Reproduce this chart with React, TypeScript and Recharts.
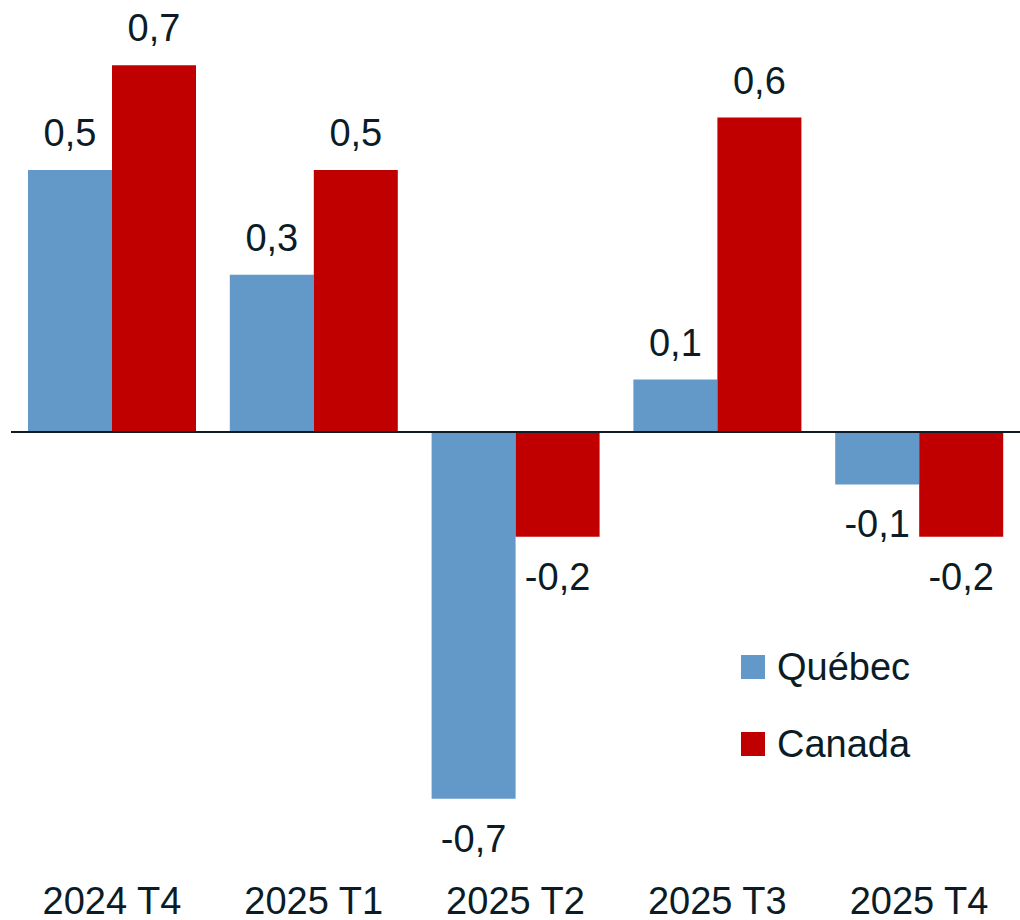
import React from "react";
import { BarChart, Bar, XAxis, YAxis, ReferenceLine, Legend, LabelList } from "recharts";

const categories = ["2024 T4", "2025 T1", "2025 T2", "2025 T3", "2025 T4"];
const quebec = [0.5, 0.3, -0.7, 0.1, -0.1];
const canada = [0.7, 0.5, -0.2, 0.6, -0.2];
const seriesOrder = ["quebec", "canada"];

const data = categories.map((c, i) => ({ cat: c, quebec: quebec[i], canada: canada[i] }));

const TEXT = "#0b1c26";
const FONT = "'Liberation Sans', Arial, sans-serif";
const FS = 38;

const fmt = (v: number) => String(v).replace(".", ",");

const ValueLabel = (props: any) => {
  const { x, y, width, height, value } = props;
  const top = Math.min(y, y + height);
  const bottom = Math.max(y, y + height);
  const cx = x + width / 2;
  if (value >= 0) {
    return (
      <text x={cx} y={top - 24} textAnchor="middle" fill={TEXT} fontSize={FS} fontFamily={FONT}>
        {fmt(value)}
      </text>
    );
  }
  return (
    <text x={cx} y={bottom + 26 + 27} textAnchor="middle" fill={TEXT} fontSize={FS} fontFamily={FONT}>
      {fmt(value)}
    </text>
  );
};

const Tick = (props: any) => {
  const { x, y, payload } = props;
  return (
    <text x={x} y={y + 55} textAnchor="middle" fill={TEXT} fontSize={FS} fontFamily={FONT}>
      {payload.value}
    </text>
  );
};

const LegendContent = (props: any) => {
  const payload = [...(props.payload || [])].sort(
    (a: any, b: any) => seriesOrder.indexOf(a.dataKey) - seriesOrder.indexOf(b.dataKey)
  );
  return (
    <div>
      {payload.map((p: any) => (
        <div key={p.value} style={{ display: "flex", alignItems: "center", height: 77 }}>
          <div style={{ width: 24, height: 24, background: p.color, marginRight: 12 }} />
          <span style={{ fontFamily: FONT, fontSize: FS, color: TEXT, lineHeight: 1 }}>{p.value}</span>
        </div>
      ))}
    </div>
  );
};

export default function App() {
  return (
    <div style={{ position: "absolute", left: 0, top: 0, width: 1020, height: 920, background: "#fff" }}>
      <BarChart
        width={1020}
        height={920}
        data={data}
        margin={{ top: 12.8, right: 0, bottom: 0, left: 11 }}
        barGap={0}
        barSize={84}
      >
        <XAxis dataKey="cat" axisLine={false} tickLine={false} tick={<Tick />} height={68.8} interval={0} />
        <YAxis hide domain={[-0.8, 0.8]} type="number" allowDataOverflow />
        <ReferenceLine y={0} stroke="#0e1b26" strokeWidth={2} />
        <Legend
          layout="horizontal"
          verticalAlign="middle"
          align="center"
          content={<LegendContent />}
          wrapperStyle={{ position: "absolute", left: 741, top: 628.5, width: 260 }}
        />
        <Bar dataKey="quebec" name="Québec" fill="#6399c8" isAnimationActive={false}>
          <LabelList dataKey="quebec" content={<ValueLabel />} />
        </Bar>
        <Bar dataKey="canada" name="Canada" fill="#c00000" isAnimationActive={false}>
          <LabelList dataKey="canada" content={<ValueLabel />} />
        </Bar>
      </BarChart>
    </div>
  );
}
